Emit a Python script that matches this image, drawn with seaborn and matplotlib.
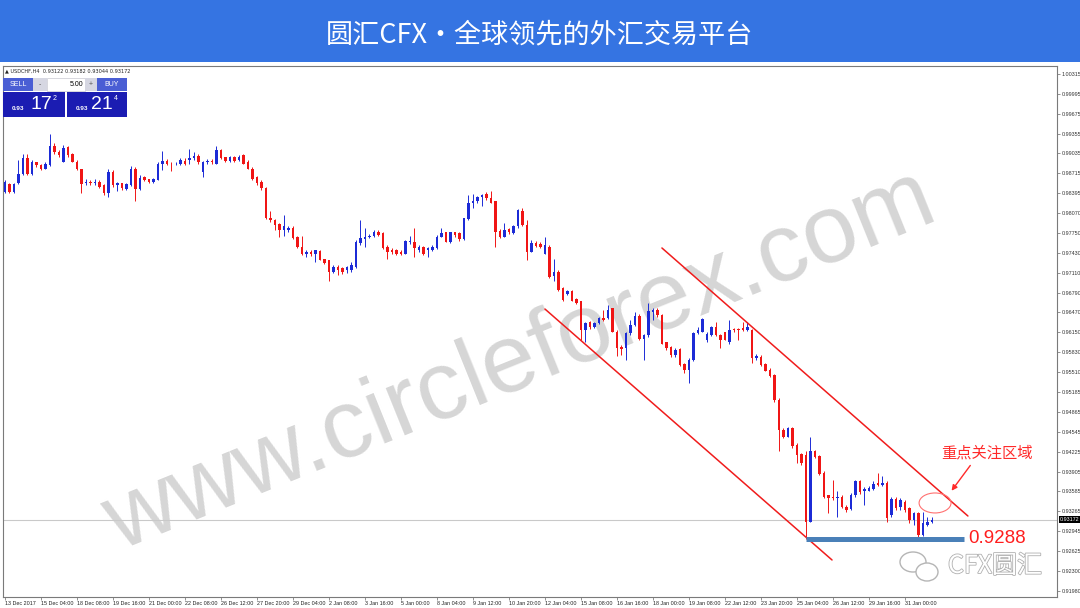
import numpy as np
import matplotlib
matplotlib.use("Agg")
import matplotlib.pyplot as plt
import matplotlib.patheffects as pe
from matplotlib.patches import Rectangle, Ellipse
import seaborn as sns

# USDCHF H4 candles
opens = [
    0.9842, 0.9854, 0.9841, 0.9855, 0.9871, 0.9896, 0.9871, 0.9889, 0.9885, 0.9879,
    0.9885, 0.9915, 0.9906, 0.9890, 0.9914, 0.9902, 0.9890, 0.9878, 0.9855, 0.9858,
    0.9855, 0.9858, 0.9853, 0.9839, 0.9874, 0.9853, 0.9855, 0.9846, 0.9853, 0.9879,
    0.9846, 0.9865, 0.9862, 0.9857, 0.9861, 0.9886, 0.9891, 0.9887, 0.9886, 0.9886,
    0.9892, 0.9893, 0.9896, 0.9899, 0.9874, 0.9889, 0.9891, 0.9887, 0.9909, 0.9897,
    0.9891, 0.9897, 0.9893, 0.9901, 0.9890, 0.9879, 0.9866, 0.9858, 0.9847, 0.9800,
    0.9796, 0.9789, 0.9780, 0.9780, 0.9784, 0.9768, 0.9753, 0.9741, 0.9745, 0.9741,
    0.9746, 0.9733, 0.9731, 0.9713, 0.9721, 0.9718, 0.9715, 0.9716, 0.9720, 0.9759,
    0.9765, 0.9768, 0.9770, 0.9777, 0.9775, 0.9753, 0.9748, 0.9747, 0.9745, 0.9742,
    0.9760, 0.9761, 0.9748, 0.9752, 0.9748, 0.9748, 0.9751, 0.9769, 0.9776, 0.9761,
    0.9776, 0.9775, 0.9765, 0.9797, 0.9823, 0.9826, 0.9833, 0.9838, 0.9831, 0.9826,
    0.9779, 0.9769, 0.9781, 0.9775, 0.9786, 0.9810, 0.9788, 0.9745, 0.9759, 0.9757,
    0.9742, 0.9753, 0.9706, 0.9713, 0.9686, 0.9677, 0.9681, 0.9668, 0.9665, 0.9618,
    0.9632, 0.9624, 0.9630, 0.9638, 0.9638, 0.9654, 0.9616, 0.9592, 0.9589, 0.9614,
    0.9627, 0.9642, 0.9604, 0.9611, 0.9648, 0.9651, 0.9643, 0.9599, 0.9592, 0.9579,
    0.9588, 0.9564, 0.9555, 0.9571, 0.9614, 0.9616, 0.9603, 0.9611, 0.9623, 0.9611,
    0.9615, 0.9600, 0.9620, 0.9620, 0.9622, 0.9619, 0.9619, 0.9573, 0.9576, 0.9564,
    0.9555, 0.9546, 0.9506, 0.9458, 0.9447, 0.9461, 0.9434, 0.9419, 0.9418, 0.9310,
    0.9423, 0.9415, 0.9388, 0.9352, 0.9350, 0.9348, 0.9350, 0.9334, 0.9330, 0.9352,
    0.9375, 0.9359, 0.9360, 0.9362, 0.9372, 0.9369, 0.9372, 0.9321, 0.9346, 0.9333,
    0.9342, 0.9332, 0.9313, 0.9324, 0.9289, 0.9305, 0.9309]
highs = [
    0.9861, 0.9855, 0.9856, 0.9893, 0.9902, 0.9902, 0.9893, 0.9890, 0.9887, 0.9890,
    0.9934, 0.9921, 0.9909, 0.9917, 0.9915, 0.9904, 0.9893, 0.9879, 0.9863, 0.9861,
    0.9862, 0.9860, 0.9854, 0.9878, 0.9876, 0.9858, 0.9856, 0.9856, 0.9883, 0.9881,
    0.9869, 0.9867, 0.9863, 0.9864, 0.9889, 0.9908, 0.9894, 0.9890, 0.9890, 0.9896,
    0.9896, 0.9910, 0.9906, 0.9902, 0.9892, 0.9894, 0.9894, 0.9915, 0.9910, 0.9898,
    0.9899, 0.9899, 0.9901, 0.9902, 0.9893, 0.9881, 0.9867, 0.9860, 0.9849, 0.9810,
    0.9797, 0.9791, 0.9804, 0.9787, 0.9786, 0.9770, 0.9770, 0.9747, 0.9747, 0.9748,
    0.9748, 0.9734, 0.9732, 0.9724, 0.9724, 0.9721, 0.9722, 0.9729, 0.9764, 0.9796,
    0.9784, 0.9774, 0.9780, 0.9780, 0.9777, 0.9756, 0.9751, 0.9749, 0.9747, 0.9764,
    0.9770, 0.9783, 0.9756, 0.9754, 0.9753, 0.9756, 0.9772, 0.9783, 0.9777, 0.9777,
    0.9777, 0.9777, 0.9800, 0.9836, 0.9838, 0.9835, 0.9838, 0.9842, 0.9843, 0.9827,
    0.9781, 0.9792, 0.9783, 0.9788, 0.9814, 0.9815, 0.9796, 0.9764, 0.9763, 0.9760,
    0.9768, 0.9756, 0.9734, 0.9716, 0.9688, 0.9683, 0.9683, 0.9670, 0.9666, 0.9632,
    0.9634, 0.9632, 0.9640, 0.9651, 0.9659, 0.9655, 0.9619, 0.9595, 0.9616, 0.9635,
    0.9648, 0.9645, 0.9613, 0.9663, 0.9654, 0.9654, 0.9645, 0.9600, 0.9593, 0.9589,
    0.9589, 0.9566, 0.9573, 0.9616, 0.9623, 0.9638, 0.9615, 0.9625, 0.9632, 0.9613,
    0.9616, 0.9635, 0.9622, 0.9622, 0.9631, 0.9631, 0.9621, 0.9580, 0.9579, 0.9566,
    0.9557, 0.9548, 0.9509, 0.9461, 0.9463, 0.9462, 0.9436, 0.9420, 0.9423, 0.9447,
    0.9426, 0.9418, 0.9391, 0.9353, 0.9377, 0.9359, 0.9353, 0.9337, 0.9356, 0.9377,
    0.9377, 0.9366, 0.9367, 0.9375, 0.9388, 0.9383, 0.9375, 0.9350, 0.9350, 0.9348,
    0.9345, 0.9334, 0.9326, 0.9326, 0.9326, 0.9318, 0.9317]
lows = [
    0.9840, 0.9839, 0.9839, 0.9854, 0.9869, 0.9869, 0.9869, 0.9882, 0.9877, 0.9878,
    0.9883, 0.9902, 0.9898, 0.9889, 0.9898, 0.9889, 0.9876, 0.9839, 0.9853, 0.9853,
    0.9853, 0.9847, 0.9836, 0.9834, 0.9850, 0.9843, 0.9844, 0.9844, 0.9851, 0.9827,
    0.9844, 0.9859, 0.9855, 0.9855, 0.9860, 0.9877, 0.9885, 0.9875, 0.9884, 0.9885,
    0.9885, 0.9886, 0.9893, 0.9887, 0.9866, 0.9887, 0.9887, 0.9886, 0.9894, 0.9890,
    0.9890, 0.9890, 0.9891, 0.9886, 0.9878, 0.9861, 0.9853, 0.9844, 0.9797, 0.9793,
    0.9780, 0.9769, 0.9770, 0.9777, 0.9765, 0.9751, 0.9740, 0.9737, 0.9738, 0.9729,
    0.9731, 0.9725, 0.9698, 0.9710, 0.9708, 0.9709, 0.9711, 0.9713, 0.9718, 0.9756,
    0.9753, 0.9767, 0.9769, 0.9770, 0.9749, 0.9734, 0.9741, 0.9740, 0.9739, 0.9741,
    0.9757, 0.9737, 0.9745, 0.9739, 0.9736, 0.9746, 0.9749, 0.9768, 0.9760, 0.9759,
    0.9769, 0.9763, 0.9764, 0.9796, 0.9815, 0.9824, 0.9818, 0.9829, 0.9823, 0.9753,
    0.9767, 0.9768, 0.9774, 0.9773, 0.9784, 0.9787, 0.9732, 0.9744, 0.9752, 0.9751,
    0.9741, 0.9702, 0.9697, 0.9681, 0.9665, 0.9675, 0.9665, 0.9661, 0.9603, 0.9600,
    0.9621, 0.9622, 0.9628, 0.9633, 0.9636, 0.9615, 0.9577, 0.9579, 0.9570, 0.9611,
    0.9625, 0.9603, 0.9571, 0.9608, 0.9635, 0.9640, 0.9596, 0.9587, 0.9576, 0.9576,
    0.9560, 0.9549, 0.9533, 0.9569, 0.9613, 0.9615, 0.9600, 0.9609, 0.9609, 0.9589,
    0.9602, 0.9597, 0.9616, 0.9603, 0.9617, 0.9617, 0.9565, 0.9571, 0.9561, 0.9552,
    0.9543, 0.9503, 0.9423, 0.9444, 0.9446, 0.9428, 0.9404, 0.9401, 0.9282, 0.9309,
    0.9412, 0.9385, 0.9348, 0.9324, 0.9345, 0.9318, 0.9332, 0.9326, 0.9328, 0.9350,
    0.9355, 0.9337, 0.9359, 0.9361, 0.9368, 0.9368, 0.9310, 0.9318, 0.9329, 0.9329,
    0.9326, 0.9308, 0.9305, 0.9282, 0.9286, 0.9302, 0.9307]
closes = [
    0.9858, 0.9842, 0.9854, 0.9871, 0.9896, 0.9871, 0.9889, 0.9884, 0.9879, 0.9887,
    0.9915, 0.9905, 0.9901, 0.9912, 0.9901, 0.9890, 0.9878, 0.9854, 0.9858, 0.9855,
    0.9857, 0.9850, 0.9839, 0.9874, 0.9853, 0.9855, 0.9847, 0.9854, 0.9879, 0.9846,
    0.9864, 0.9861, 0.9858, 0.9862, 0.9886, 0.9891, 0.9887, 0.9886, 0.9887, 0.9893,
    0.9887, 0.9896, 0.9899, 0.9890, 0.9890, 0.9892, 0.9889, 0.9909, 0.9896, 0.9892,
    0.9897, 0.9892, 0.9898, 0.9887, 0.9879, 0.9863, 0.9855, 0.9847, 0.9799, 0.9796,
    0.9788, 0.9780, 0.9786, 0.9784, 0.9767, 0.9752, 0.9741, 0.9745, 0.9741, 0.9747,
    0.9732, 0.9727, 0.9713, 0.9721, 0.9716, 0.9713, 0.9720, 0.9724, 0.9761, 0.9767,
    0.9768, 0.9770, 0.9777, 0.9772, 0.9751, 0.9745, 0.9744, 0.9742, 0.9741, 0.9762,
    0.9762, 0.9751, 0.9753, 0.9741, 0.9751, 0.9753, 0.9769, 0.9775, 0.9761, 0.9776,
    0.9772, 0.9765, 0.9799, 0.9824, 0.9827, 0.9833, 0.9836, 0.9831, 0.9824, 0.9777,
    0.9769, 0.9780, 0.9776, 0.9787, 0.9812, 0.9788, 0.9745, 0.9759, 0.9754, 0.9753,
    0.9756, 0.9705, 0.9713, 0.9683, 0.9667, 0.9681, 0.9666, 0.9663, 0.9618, 0.9630,
    0.9623, 0.9630, 0.9638, 0.9635, 0.9651, 0.9616, 0.9589, 0.9588, 0.9614, 0.9627,
    0.9642, 0.9604, 0.9611, 0.9650, 0.9651, 0.9643, 0.9597, 0.9589, 0.9579, 0.9587,
    0.9563, 0.9555, 0.9571, 0.9614, 0.9619, 0.9636, 0.9613, 0.9623, 0.9611, 0.9603,
    0.9603, 0.9619, 0.9618, 0.9618, 0.9619, 0.9623, 0.9573, 0.9577, 0.9563, 0.9553,
    0.9545, 0.9506, 0.9458, 0.9447, 0.9461, 0.9431, 0.9418, 0.9404, 0.9310, 0.9423,
    0.9414, 0.9387, 0.9350, 0.9348, 0.9348, 0.9350, 0.9334, 0.9329, 0.9353, 0.9375,
    0.9357, 0.9362, 0.9364, 0.9371, 0.9369, 0.9372, 0.9316, 0.9346, 0.9332, 0.9344,
    0.9329, 0.9313, 0.9324, 0.9289, 0.9308, 0.9309, 0.9313]

time_labels = ['13 Dec 2017', '15 Dec 04:00', '18 Dec 08:00', '19 Dec 16:00', '21 Dec 00:00',
               '22 Dec 08:00', '26 Dec 12:00', '27 Dec 20:00', '29 Dec 04:00', '2 Jan 08:00',
               '3 Jan 16:00', '5 Jan 00:00', '8 Jan 04:00', '9 Jan 12:00', '10 Jan 20:00',
               '12 Jan 04:00', '15 Jan 08:00', '16 Jan 16:00', '18 Jan 00:00', '19 Jan 08:00',
               '22 Jan 12:00', '23 Jan 20:00', '25 Jan 04:00', '26 Jan 12:00', '29 Jan 16:00',
               '31 Jan 00:00']
price_ticks = [1.00315, 0.99995, 0.99675, 0.99355, 0.99035, 0.98715, 0.98395, 0.98070,
               0.97750, 0.97430, 0.97110, 0.96790, 0.96470, 0.96150, 0.95830, 0.95510,
               0.95185, 0.94865, 0.94545, 0.94225, 0.93905, 0.93585, 0.93265, 0.92945,
               0.92625, 0.92300, 0.91980]

# hand drawn channel (bar index, price)
channel_lower = ([120.0, 183.8], [0.96526, 0.92480])
channel_upper = ([146.0, 214.0], [0.97510, 0.93189])
bid = "0.93172"
header_info = "\u25B2 USDCHF,H4  0.93122 0.93182 0.93044 0.93172"

sns.set_theme(style="white")
plt.rcParams['font.family'] = ['Noto Sans CJK SC', 'DejaVu Sans']

W, H = 1080, 608
fig = plt.figure(figsize=(W / 100, H / 100), dpi=100)
fig.patch.set_facecolor('white')


def fx(x):
    return x / W


def fy(y):
    return 1 - y / H


def box(x0, y0, x1, y1, fc, ec='none', lw=0.0):
    fig.patches.append(Rectangle((fx(x0), fy(y1)), (x1 - x0) / W, (y1 - y0) / H,
                                 transform=fig.transFigure, facecolor=fc,
                                 edgecolor=ec, lw=lw, zorder=5))


ax = fig.add_axes([fx(3), fy(597), (1057 - 3) / W, (597 - 66) / H])

o = np.array(opens)
h = np.array(highs)
l = np.array(lows)
c = np.array(closes)
idx = np.arange(len(c))
up = c >= o
col = np.where(up, '#1c2bd6', '#f01515')

ax.vlines(idx, l, h, colors=col, lw=0.7, zorder=2)
body = np.maximum(np.abs(c - o), 0.00006)
ax.bar(idx, body, bottom=np.minimum(o, c), width=0.62, color=col, linewidth=0, zorder=3)

# watermark
ax.text(0.482, 0.405, "www.circleforex.com", transform=fig.transFigure, rotation=22,
        fontsize=70, color='#d6d6d6', family='Liberation Sans', ha='center', va='center',
        zorder=1)

# bid line
ax.axhline(c[-1], color='#c9c9c9', lw=0.8, zorder=1.5)

# channel
sns.lineplot(x=channel_lower[0], y=channel_lower[1], ax=ax, color='#f01c1c', lw=1.1, zorder=4)
sns.lineplot(x=channel_upper[0], y=channel_upper[1], ax=ax, color='#f01c1c', lw=1.1, zorder=4)

# support level
low_bar = int(np.argmin(l[:190]))
ax.hlines(l.min(), low_bar, 213.1, color='#4a80b8', lw=3.6, zorder=4)
ax.text(214, l.min(), "0.9288", color='#ff1e1e', fontsize=13.5, family='Liberation Sans',
        va='center', ha='left', zorder=6)

# focus zone
ax.add_patch(Ellipse((206.7, 0.93399), 7.1, 0.00322, fill=False, ec='#ff7070', lw=0.8, zorder=5))
ax.annotate('', xy=(210.0, 0.9356), xytext=(214.9, 0.9404),
            arrowprops=dict(arrowstyle='-|>', color='#ff2a2a', lw=1.0, mutation_scale=8),
            zorder=6)
ax.text(218.2, 0.94205, "重点关注区域", color='#ff2a2a', fontsize=11, ha='center',
        va='center', zorder=6)

ax.set_xlim(-0.44, 233.8)
ax.set_ylim(0.91883, 1.00444)
ax.set_xticks(np.arange(len(time_labels)) * 8)
ax.set_xticklabels(time_labels, ha='left', fontsize=3.9, family='Liberation Sans', color='#222222')
ax.yaxis.tick_right()
ax.set_yticks(price_ticks)
ax.set_yticklabels([f"{v:.5f}" for v in price_ticks], fontsize=3.9,
                   family='Liberation Sans', color='#333333')
ax.tick_params(axis='both', length=2.2, width=0.5, color='#666666', pad=1, direction='out')
ax.tick_params(axis='x', bottom=True)
ax.tick_params(axis='y', right=True)
for s in ax.spines.values():
    s.set_color('#7a7a7a')
    s.set_linewidth(0.8)
ax.text(1.003, c[-1], bid, transform=ax.get_yaxis_transform(), fontsize=3.9,
        family='Liberation Sans', color='white', va='center', ha='left',
        bbox=dict(boxstyle='square,pad=0.15', fc='black', ec='none'), zorder=7)

# header bar
box(0, 0, 1080, 62, '#3574e2')
fig.text(0.5, fy(35), "圆汇CFX・全球领先的外汇交易平台", color='white', fontsize=19.5,
         ha='center', va='center', zorder=6)
fig.text(fx(5), fy(71), header_info, fontsize=3.6, family='DejaVu Sans', color='#222222',
         va='center', ha='left')

# one-click trading panel
box(3, 78, 33, 91, '#4a5ed4')
box(33, 78, 47, 91, '#d6d7e2')
box(47, 78, 85, 91, 'white', '#c8c8d0', 0.5)
box(85, 78, 97, 91, '#d6d7e2')
box(97, 78, 127, 91, '#4a5ed4')
box(3, 92, 65, 117, '#1b1cb2')
box(67, 92, 127, 117, '#1b1cb2')
txt = dict(family='Liberation Sans', va='center', zorder=8)
fig.text(fx(18), fy(84.5), "SELL", fontsize=5, color='white', ha='center', **txt)
fig.text(fx(40), fy(84.5), "-", fontsize=5, color='#555555', ha='center', **txt)
fig.text(fx(83), fy(84.5), "5.00", fontsize=5, color='black', ha='right', **txt)
fig.text(fx(91), fy(84.5), "+", fontsize=5, color='#555555', ha='center', **txt)
fig.text(fx(112), fy(84.5), "BUY", fontsize=5, color='white', ha='center', **txt)
fig.text(fx(18), fy(108.5), "0.93", fontsize=4.6, color='white', ha='center', weight='bold', **txt)
fig.text(fx(41), fy(104.5), "17", fontsize=14, color='white', ha='center', **txt)
fig.text(fx(55), fy(99), "2", fontsize=5, color='white', ha='center', **txt)
fig.text(fx(82), fy(108.5), "0.93", fontsize=4.6, color='white', ha='center', weight='bold', **txt)
fig.text(fx(102), fy(104.5), "21", fontsize=14, color='white', ha='center', **txt)
fig.text(fx(116), fy(99), "4", fontsize=5, color='white', ha='center', **txt)

# bottom-right logo
for (ex, ey, ew, eh) in [(913, 562, 26, 20), (927, 572, 22, 18)]:
    fig.patches.append(Ellipse((fx(ex), fy(ey)), ew / W, eh / H, transform=fig.transFigure,
                               fill=True, fc='white', ec='#b5b5b5', lw=1.0, zorder=6))
fig.text(fx(995), fy(566), "CFX圆汇", fontsize=18, color='white', ha='center',
         va='center', zorder=7,
         path_effects=[pe.withStroke(linewidth=1.2, foreground='#b0b0b0')])

fig.savefig("out.png", dpi=100)
